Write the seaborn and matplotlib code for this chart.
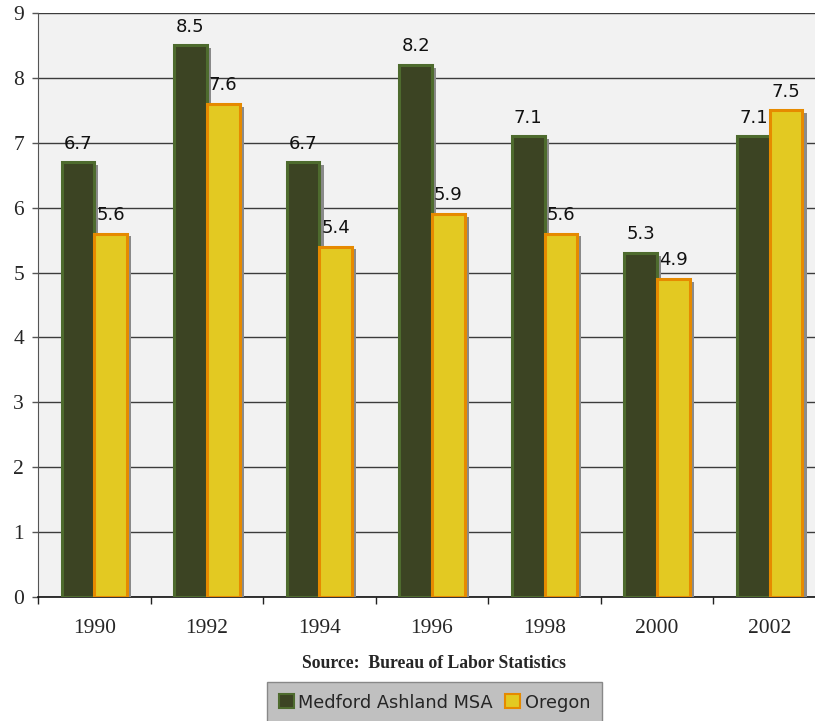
import matplotlib
matplotlib.use("Agg")
import matplotlib.pyplot as plt
import matplotlib.patheffects as pe
from matplotlib.ticker import FixedLocator
import pandas as pd
import seaborn as sns

years = ["1990", "1992", "1994", "1996", "1998", "2000", "2002"]
medford = [6.7, 8.5, 6.7, 8.2, 7.1, 5.3, 7.1]
oregon = [5.6, 7.6, 5.4, 5.9, 5.6, 4.9, 7.5]
series_names = ["Medford Ashland MSA", "Oregon"]
y_ticks = [0, 1, 2, 3, 4, 5, 6, 7, 8, 9]

df = pd.DataFrame({
    "year": years * 2,
    "rate": medford + oregon,
    "area": [series_names[0]] * len(years) + [series_names[1]] * len(years),
})

face_colors = ["#3c4423", "#e3c922"]
edge_colors = ["#4e6b2e", "#e68a00"]

sns.set_style("white")
plt.rcParams["font.family"] = ["DejaVu Sans"]

fig = plt.figure(figsize=(8.15, 7.21), dpi=100)
W, H = 815, 721
left, right, top, bottom = 38, 826, 13, 597
ax = fig.add_axes([left / W, 1 - bottom / H, (right - left) / W, (bottom - top) / H])
ax.set_facecolor("#f2f2f2")

sns.barplot(data=df, x="year", y="rate", hue="area", palette=face_colors,
            saturation=1, width=0.58, ax=ax, linewidth=2.2, zorder=3)

shadow = [pe.SimplePatchShadow(offset=(3, -2), shadow_rgbFace="#8a8a8a", alpha=1.0), pe.Normal()]
for cont, ec in zip(ax.containers, edge_colors):
    for bar in cont:
        bar.set_edgecolor(ec)
        bar.set_path_effects(shadow)
    ax.bar_label(cont, labels=[f"{v:.1f}" for v in cont.datavalues], padding=7,
                 fontsize=13, color="#111111")

ax.set_ylim(0, 9)
ax.set_xlim(-0.5, len(years) - 0.5)
ax.set_yticks(y_ticks)
ax.set_yticklabels([str(t) for t in y_ticks], family="Liberation Serif", fontsize=15.5)
ax.yaxis.grid(True, color="#3c3c3c", linewidth=1.0)
ax.set_axisbelow(True)
ax.tick_params(axis="y", length=4, width=1, color="#555555", pad=6, left=True)

ax.set_xticklabels(years, family="Liberation Serif", fontsize=15.5)
ax.xaxis.set_minor_locator(FixedLocator([i - 0.5 for i in range(len(years) + 1)]))
ax.tick_params(axis="x", which="major", length=0, pad=16)
ax.tick_params(axis="x", which="minor", length=5, width=1, color="#222222", bottom=True)
ax.set_xlabel("")
ax.set_ylabel("")

for s in ["top", "right"]:
    ax.spines[s].set_visible(False)
ax.spines["left"].set_color("#555555")
ax.spines["bottom"].set_color("#111111")
ax.spines["bottom"].set_linewidth(1.2)

fig.text(434 / W, 1 - 663 / H, "Source:  Bureau of Labor Statistics", ha="center", va="center",
         family="Liberation Serif", fontweight="bold", fontsize=12.7)

sns.move_legend(ax, loc="upper center", bbox_to_anchor=(434.5 / W, 1 - 682 / H),
                bbox_transform=fig.transFigure, ncol=2, frameon=True, title=None,
                fontsize=12.8, handlelength=0.85, handleheight=0.85, handletextpad=0.25,
                columnspacing=0.7, borderpad=0.65, fancybox=False, borderaxespad=0)
leg = ax.get_legend()
leg.get_frame().set_facecolor("#c0c0c0")
leg.get_frame().set_edgecolor("#888888")
leg.get_frame().set_alpha(1)
for h, ec in zip(leg.legend_handles, edge_colors):
    h.set_edgecolor(ec)
    h.set_linewidth(1.5)

fig.savefig("out.png", dpi=100, facecolor="white")
